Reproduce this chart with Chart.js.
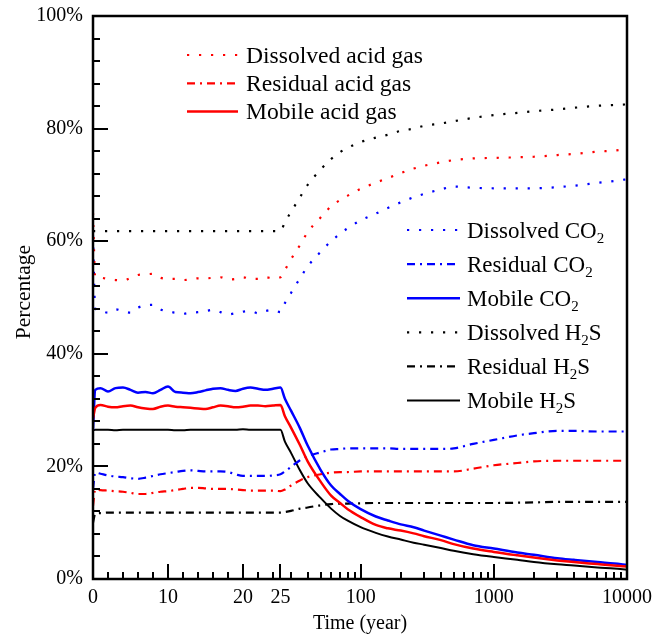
<!DOCTYPE html>
<html><head><meta charset="utf-8">
<script src="https://cdn.jsdelivr.net/npm/chart.js@4/dist/chart.umd.min.js"></script>
<style>html,body{margin:0;padding:0;background:#fff}#wrap{width:667px;height:639px;position:relative}canvas{display:block}</style>
</head><body><div id="wrap"><canvas id="c" width="667" height="639"></canvas></div>
<script>
// ---------------- DATA ----------------
const TIMES = [0, 0.3, 1, 2, 3, 4, 5, 6, 7, 8, 9, 10, 11, 12, 13, 14, 15, 16, 17, 18, 19, 20, 21, 22, 23, 24, 25,
  27, 30, 35, 40, 50, 60, 70, 80, 100, 130, 160, 200, 250, 300, 400, 500, 700, 1000, 1500, 2000, 3000, 4000, 6000, 8000, 10000];

const dissolvedAcid = [65, 53.6, 53.5, 53.3, 53.1, 53.0, 53.5, 54.0, 54.1, 54.2, 53.5, 53.3, 53.3, 53.1, 53.2, 53.4, 53.4, 53.5, 53.6, 53.2, 53.3, 53.6, 53.3, 53.3, 53.6, 53.4, 53.6,
  54.9, 56.8, 59.3, 61.6, 64.2, 66.2, 67.3, 68.1, 69.3, 70.4, 71.2, 72.1, 72.9, 73.4, 74.0, 74.4, 74.7, 74.8, 74.9, 75.0, 75.3, 75.5, 75.9, 76.1, 76.4];
const residualAcid = [13, 15.9, 15.8, 15.7, 15.6, 15.5, 15.3, 15.1, 15.1, 15.3, 15.5, 15.6, 15.8, 16.0, 16.2, 16.2, 16.1, 16.0, 16.0, 16.0, 15.9, 15.8, 15.7, 15.7, 15.7, 15.7, 15.6,
  15.9, 16.6, 17.5, 18.1, 18.6, 18.9, 19.0, 19.0, 19.1, 19.1, 19.1, 19.1, 19.1, 19.1, 19.1, 19.1, 19.6, 20.2, 20.6, 20.9, 21.0, 21.0, 21.0, 21.0, 21.0];
const mobileAcid = [28.5, 30.4, 30.9, 30.6, 30.5, 30.7, 30.8, 30.5, 30.3, 30.2, 30.6, 30.8, 30.6, 30.5, 30.4, 30.3, 30.2, 30.5, 30.8, 30.7, 30.5, 30.6, 30.8, 30.8, 30.7, 30.8, 30.9,
  28.9, 26.9, 23.8, 20.9, 17.3, 14.8, 13.5, 12.4, 11.0, 9.6, 9.0, 8.6, 8.1, 7.6, 6.9, 6.2, 5.4, 4.8, 4.2, 3.8, 3.3, 3.0, 2.65, 2.4, 2.2];

const dissolvedCO2 = [61, 48.0, 47.6, 47.3, 47.9, 47.6, 47.3, 48.2, 48.6, 48.7, 47.9, 47.5, 47.3, 47.1, 47.3, 47.4, 47.6, 47.8, 47.4, 47.0, 47.2, 47.5, 47.6, 47.2, 47.6, 47.8, 47.4,
  49.0, 50.8, 53.4, 55.5, 58.1, 60.0, 61.3, 62.3, 63.7, 64.9, 65.9, 66.9, 67.8, 68.4, 69.2, 69.7, 69.5, 69.4, 69.4, 69.4, 69.6, 69.85, 70.35, 70.7, 71.0];
const residualCO2 = [16, 18.9, 18.7, 18.4, 18.2, 18.1, 17.9, 17.8, 18.0, 18.3, 18.6, 18.8, 19.0, 19.2, 19.3, 19.2, 19.1, 19.1, 19.1, 19.0, 18.6, 18.3, 18.3, 18.3, 18.3, 18.4, 18.6,
  19.1, 19.9, 21.1, 21.8, 22.5, 23.0, 23.1, 23.2, 23.2, 23.2, 23.2, 23.1, 23.1, 23.1, 23.1, 23.2, 24.0, 24.7, 25.5, 25.9, 26.3, 26.3, 26.2, 26.2, 26.2];
const mobileCO2 = [26.5, 33.6, 33.9, 33.3, 33.9, 34.0, 33.6, 33.1, 33.2, 33.0, 33.6, 34.2, 33.2, 33.1, 33.0, 33.2, 33.5, 33.8, 33.9, 33.6, 33.4, 33.8, 34.0, 33.8, 33.6, 33.8, 34.0,
  32.0, 29.9, 26.8, 23.7, 19.4, 16.6, 15.1, 13.9, 12.4, 11.1, 10.4, 9.7, 9.2, 8.6, 7.7, 7.0, 6.0, 5.4, 4.7, 4.3, 3.7, 3.4, 3.0, 2.75, 2.5];

const dissolvedH2S = [61.8, 61.8, 61.8, 61.8, 61.8, 61.8, 61.8, 61.8, 61.8, 61.8, 61.8, 61.8, 61.8, 61.8, 61.8, 61.8, 61.8, 61.8, 61.8, 61.8, 61.8, 61.8, 61.8, 61.8, 61.8, 61.8, 61.8,
  63.4, 65.2, 67.8, 70.0, 72.7, 74.6, 75.8, 76.6, 77.6, 78.4, 78.9, 79.6, 80.0, 80.5, 80.9, 81.3, 81.9, 82.4, 82.8, 83.1, 83.4, 83.7, 84.05, 84.2, 84.3];
const residualH2S = [10.0, 11.6, 11.7, 11.8, 11.8, 11.8, 11.8, 11.8, 11.8, 11.8, 11.8, 11.8, 11.8, 11.8, 11.8, 11.8, 11.8, 11.8, 11.8, 11.8, 11.8, 11.8, 11.8, 11.8, 11.8, 11.8, 11.8,
  11.9, 12.1, 12.5, 12.7, 13.1, 13.3, 13.4, 13.4, 13.45, 13.5, 13.5, 13.5, 13.5, 13.5, 13.5, 13.5, 13.5, 13.5, 13.55, 13.6, 13.7, 13.7, 13.7, 13.7, 13.7];
const mobileH2S = [26.4, 26.5, 26.5, 26.5, 26.4, 26.5, 26.5, 26.5, 26.5, 26.5, 26.5, 26.5, 26.4, 26.4, 26.5, 26.5, 26.5, 26.5, 26.5, 26.5, 26.5, 26.6, 26.5, 26.5, 26.5, 26.5, 26.5,
  24.4, 22.4, 19.3, 17.0, 14.4, 12.5, 11.2, 10.35, 9.2, 8.2, 7.55, 7.0, 6.45, 6.1, 5.5, 5.0, 4.4, 3.9, 3.4, 3.0, 2.6, 2.4, 2.05, 1.85, 1.65];

const SERIES_LABELS = ['Dissolved acid gas', 'Residual acid gas', 'Mobile acid gas',
  'Dissolved CO_2', 'Residual CO_2', 'Mobile CO_2',
  'Dissolved H_2S', 'Residual H_2S', 'Mobile H_2S'];

const X_TICKS = [0, 10, 20, 25, 100, 1000, 10000];
const X_TICK_LABELS = ['0', '10', '20', '25', '100', '1000', '10000'];
const X_MINOR = [2, 4, 6, 8, 12, 14, 16, 18, 22, 24, 30, 40, 50, 60, 70, 80, 90,
  200, 300, 400, 500, 600, 700, 800, 900, 2000, 3000, 4000, 5000, 6000, 7000, 8000, 9000];
const Y_TICKS = [0, 20, 40, 60, 80, 100];
const Y_MINOR = [4, 8, 12, 16, 24, 28, 32, 36, 44, 48, 52, 56, 64, 68, 72, 76, 84, 88, 92, 96];

// ---------------- HYBRID (linear 0-25, log 25-10000) SCALE ----------------
const LIN_END = 25;
const UNITS_PER_DECADE = 17.76;
function toU(t) { return t <= LIN_END ? t : LIN_END + UNITS_PER_DECADE * Math.log10(t / LIN_END); }
function fromU(u) { return u <= LIN_END ? u : LIN_END * Math.pow(10, (u - LIN_END) / UNITS_PER_DECADE); }

class HybridTimeScale extends Chart.LinearScale {
  determineDataLimits() { this.min = 0; this.max = 10000; }
  buildTicks() { return X_TICKS.map(v => ({ value: v })); }
  getPixelForValue(v) {
    if (v === null || v === undefined || isNaN(v)) return NaN;
    return this.left + this.width * toU(v) / toU(this.max);
  }
  getValueForPixel(p) { return fromU((p - this.left) / this.width * toU(this.max)); }
}
HybridTimeScale.id = 'hybridTime';
HybridTimeScale.defaults = {};
Chart.register(HybridTimeScale);

// ---------------- STYLES ----------------
const RED = '#ff0000', BLUE = '#0000ff', BLACK = '#000000';
const DOT = [2.2, 9.8], DASHDOT = [8, 5, 2, 5];
function ds(i, values, color, dash, width) {
  return { label: SERIES_LABELS[i], data: values, borderColor: color, backgroundColor: color,
    borderDash: dash, borderWidth: width, pointRadius: 0, fill: false,
    cubicInterpolationMode: 'monotone', borderCapStyle: 'butt' };
}

const FONT = 'Liberation Serif, Times New Roman, serif';
Chart.defaults.font.family = FONT;
Chart.defaults.color = '#000';

const framePlugin = {
  id: 'frameTicks',
  afterDraw(chart) {
    const { ctx, chartArea: a } = chart;
    const xs = chart.scales.x, ys = chart.scales.y;
    ctx.save();
    ctx.strokeStyle = '#000';
    ctx.lineWidth = 2.5;
    ctx.setLineDash([]);
    ctx.strokeRect(a.left, a.top, a.right - a.left, a.bottom - a.top);
    ctx.lineWidth = 2;
    ctx.beginPath();
    X_TICKS.forEach(v => { const x = Math.round(xs.getPixelForValue(v)); ctx.moveTo(x, a.bottom); ctx.lineTo(x, a.bottom - 15); });
    X_MINOR.forEach(v => { const x = Math.round(xs.getPixelForValue(v)); ctx.moveTo(x, a.bottom); ctx.lineTo(x, a.bottom - 7); });
    Y_TICKS.forEach(v => { const y = Math.round(ys.getPixelForValue(v)); ctx.moveTo(a.left, y); ctx.lineTo(a.left + 15, y); });
    Y_MINOR.forEach(v => { const y = Math.round(ys.getPixelForValue(v)); ctx.moveTo(a.left, y); ctx.lineTo(a.left + 7, y); });
    ctx.stroke();
    ctx.restore();
  }
};

function drawLabel(ctx, text, x, y, size) {
  const parts = text.split('_');
  let cx = x;
  ctx.font = size + 'px ' + FONT;
  ctx.fillText(parts[0], cx, y);
  cx += ctx.measureText(parts[0]).width;
  if (parts.length > 1) {
    const sub = parts[1].charAt(0), rest = parts[1].slice(1);
    const ss = Math.round(size * 0.65);
    ctx.font = ss + 'px ' + FONT;
    ctx.fillText(sub, cx, y + 5);
    cx += ctx.measureText(sub).width;
    ctx.font = size + 'px ' + FONT;
    if (rest) ctx.fillText(rest, cx, y);
  }
}

const legendPlugin = {
  id: 'twoLegends',
  afterDraw(chart, args, opts) {
    const { ctx } = chart;
    ctx.save();
    opts.groups.forEach(g => {
      g.items.forEach((idx, k) => {
        const d = chart.data.datasets[idx];
        const y = g.y0 + k * g.dy;
        ctx.beginPath();
        ctx.setLineDash(d.borderDash || []);
        ctx.lineWidth = d.borderWidth;
        ctx.strokeStyle = d.borderColor;
        ctx.moveTo(g.x0, y); ctx.lineTo(g.x1, y);
        ctx.stroke();
        ctx.setLineDash([]);
        ctx.fillStyle = '#000';
        ctx.textBaseline = 'alphabetic';
        ctx.textAlign = 'left';
        drawLabel(ctx, d.label, g.textX, y + 7.5, g.fontSize);
      });
    });
    ctx.restore();
  }
};

new Chart(document.getElementById('c'), {
  type: 'line',
  data: {
    labels: TIMES,
    datasets: [
      ds(0, dissolvedAcid, RED, DOT, 2.2),
      ds(1, residualAcid, RED, DASHDOT, 2.2),
      ds(2, mobileAcid, RED, [], 2.5),
      ds(3, dissolvedCO2, BLUE, DOT, 2.2),
      ds(4, residualCO2, BLUE, DASHDOT, 2.2),
      ds(5, mobileCO2, BLUE, [], 2.5),
      ds(6, dissolvedH2S, BLACK, DOT, 2.2),
      ds(7, residualH2S, BLACK, DASHDOT, 2.2),
      ds(8, mobileH2S, BLACK, [], 2)
    ]
  },
  options: {
    responsive: false,
    animation: false,
    devicePixelRatio: 1,
    layout: { padding: { left: 0, top: 16, right: 40, bottom: 0 } },
    plugins: {
      legend: { display: false },
      tooltip: { enabled: false },
      twoLegends: {
        groups: [
          { x0: 187, x1: 238, textX: 246, y0: 55, dy: 28.3, items: [0, 1, 2], fontSize: 23.6 },
          { x0: 407, x1: 460, textX: 467, y0: 230, dy: 34.1, items: [3, 4, 5, 6, 7, 8], fontSize: 23 }
        ]
      }
    },
    scales: {
      x: {
        type: 'hybridTime',
        grid: { display: false, drawTicks: false },
        border: { display: false },
        ticks: { autoSkip: false, maxRotation: 0, minRotation: 0, padding: 7, font: { size: 20 }, color: '#000',
          callback: (v, i) => X_TICK_LABELS[i] },
        title: { display: true, text: 'Time (year)', font: { size: 20 }, color: '#000', padding: { top: 0, bottom: 3 } },
        afterFit(s) { s.height = 60; s.paddingLeft = 0; s.paddingRight = 0; }
      },
      y: {
        type: 'linear', min: 0, max: 100,
        grid: { display: false, drawTicks: false },
        border: { display: false },
        afterBuildTicks(s) { s.ticks = Y_TICKS.map(v => ({ value: v })); },
        ticks: { padding: 10, font: { size: 20 }, color: '#000', callback: v => v + '%' },
        title: { display: true, text: '\u2002Percentage', font: { size: 21.5 }, color: '#000', padding: { top: 11, bottom: 0 } },
        afterFit(s) { s.width = 93; s.paddingTop = 0; s.paddingBottom = 0; }
      }
    }
  },
  plugins: [framePlugin, legendPlugin]
});
</script>
</body></html>
